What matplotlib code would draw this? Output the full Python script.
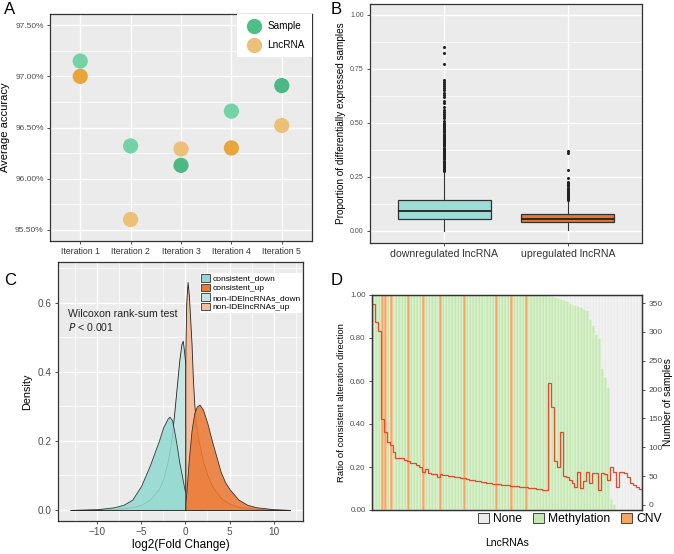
import numpy as np
import matplotlib.pyplot as plt
from matplotlib.patches import Patch
from matplotlib.lines import Line2D
from matplotlib.ticker import MultipleLocator, FuncFormatter

plt.rcParams['font.family'] = ['Liberation Sans', 'DejaVu Sans']

# ---------------- data ----------------
# A: average accuracy per iteration
iterations = ['Iteration 1', 'Iteration 2', 'Iteration 3', 'Iteration 4', 'Iteration 5']
sample_acc = [97.15, 96.32, 96.13, 96.66, 96.91]
lncrna_acc = [97.00, 95.60, 96.29, 96.30, 96.52]

# B: box plot summaries
b_groups = ['downregulated lncRNA', 'upregulated lncRNA']
b_q1 = [0.056, 0.040]
b_med = [0.090, 0.054]
b_q3 = [0.141, 0.079]
b_whislo = [0.0, 0.005]
b_whishi = [0.272, 0.141]
down_outliers = [0.85, 0.825, 0.77, 0.70, 0.69, 0.68, 0.67, 0.66, 0.65, 0.64, 0.63,
                 0.62, 0.60, 0.59, 0.575, 0.56, 0.55, 0.54, 0.53, 0.52, 0.51, 0.50,
                 0.495, 0.49, 0.485, 0.48, 0.475, 0.47, 0.465, 0.46, 0.455, 0.45,
                 0.445, 0.44, 0.435, 0.43, 0.425, 0.42, 0.415, 0.41, 0.405, 0.40,
                 0.395, 0.39, 0.385, 0.38, 0.375, 0.37, 0.365, 0.36, 0.355, 0.35,
                 0.345, 0.34, 0.335, 0.33, 0.325, 0.32, 0.315, 0.31, 0.305, 0.30,
                 0.295, 0.29, 0.285, 0.28, 0.275]
up_outliers = [0.37, 0.36, 0.28, 0.245, 0.225, 0.22, 0.215, 0.21, 0.205, 0.20, 0.195,
               0.19, 0.185, 0.18, 0.175, 0.17, 0.165, 0.16, 0.155, 0.15, 0.145, 0.14]

# C: density curves of log2 fold change
cd_x = [-13, -10, -8, -7, -6, -5, -4, -3, -2.5, -2, -1.8, -1.5, -1.2, -1.0, -0.7, -0.4, -0.1, 0]
cd_y = [0, 0.002, 0.008, 0.015, 0.03, 0.07, 0.13, 0.2, 0.24, 0.265, 0.27, 0.26, 0.22, 0.19,
        0.14, 0.1, 0.06, 0.05]
cu_x = [0, 0.2, 0.4, 0.7, 1.0, 1.3, 1.6, 2.0, 2.5, 3.0, 3.5, 4.0, 4.5, 5.0, 5.5, 6.0, 7.0,
        8.0, 9.0, 10.0, 11.8]
cu_y = [0.02, 0.08, 0.15, 0.23, 0.28, 0.30, 0.305, 0.29, 0.25, 0.2, 0.155, 0.11, 0.08, 0.06,
        0.045, 0.03, 0.015, 0.008, 0.005, 0.002, 0]
nd_x = [-13, -10, -8, -6, -5, -4, -3, -2.5, -2, -1.6, -1.3, -1.0, -0.7, -0.45, -0.3, -0.15, 0]
nd_y = [0, 0.001, 0.003, 0.008, 0.015, 0.03, 0.06, 0.09, 0.14, 0.2, 0.27, 0.35, 0.43, 0.48,
        0.49, 0.46, 0.42]
nu_x = [0, 0.1, 0.25, 0.4, 0.55, 0.7, 0.85, 1.0, 1.2, 1.5, 2.0, 2.5, 3.0, 4.0, 5.0, 6.0, 8.0,
        10.0, 11.8]
nu_y = [0.46, 0.6, 0.66, 0.62, 0.55, 0.48, 0.38, 0.31, 0.25, 0.2, 0.14, 0.1, 0.07, 0.035,
        0.018, 0.009, 0.003, 0.001, 0]

# D: ratio of consistent alteration direction per lncRNA and number of samples
ratio = [1.0, 1.0, 1.0, 1.0, 1.0, 1.0, 1.0, 1.0, 1.0, 1.0,
         1.0, 1.0, 1.0, 1.0, 1.0, 1.0, 1.0, 1.0, 1.0, 1.0,
         1.0, 1.0, 1.0, 1.0, 1.0, 1.0, 1.0, 1.0, 1.0, 1.0,
         1.0, 1.0, 1.0, 1.0, 1.0, 1.0, 1.0, 1.0, 1.0, 1.0,
         1.0, 1.0, 1.0, 1.0, 1.0, 1.0, 1.0, 1.0, 1.0, 1.0,
         1.0, 1.0, 1.0, 1.0, 1.0, 1.0, 1.0, 1.0, 1.0, 1.0,
         1.0, 0.995, 0.99, 0.985, 0.98, 0.975, 0.97, 0.965, 0.96, 0.955,
         0.95, 0.945, 0.935, 0.93, 0.89, 0.86, 0.82, 0.80, 0.66, 0.62,
         0.57, 0.05, 0.03, 0, 0, 0, 0, 0, 0, 0,
         0, 0]
cnv_index = [3, 4, 6, 12, 17, 23, 31, 42, 47, 52]
samples = [349, 317, 301, 149, 127, 110, 104, 92, 81, 81,
           81, 78, 76, 73, 73, 70, 65, 58, 62, 56,
           53, 53, 48, 53, 52, 52, 50, 50, 48, 48,
           47, 46, 45, 43, 43, 42, 41, 40, 39, 38,
           38, 37, 36, 36, 35, 34, 34, 33, 33, 33,
           32, 32, 31, 29, 29, 29, 28, 28, 26, 26,
           212, 170, 77, 66, 126, 50, 49, 43, 38, 32,
           58, 30, 42, 58, 38, 56, 56, 26, 55, 54,
           43, 66, 58, 32, 58, 58, 56, 49, 38, 35,
           31, 28]


def gg_style(ax, tick_size=7):
    ax.set_facecolor('#EBEBEB')
    ax.grid(which='major', color='white', lw=1.0)
    ax.grid(which='minor', color='white', lw=0.5)
    ax.set_axisbelow(True)
    for s in ax.spines.values():
        s.set_color('#333333')
        s.set_linewidth(0.9)
    ax.tick_params(which='major', length=2.5, width=0.6, color='#333333',
                   labelsize=tick_size, labelcolor='#4D4D4D', pad=2)
    ax.tick_params(which='minor', length=0)


W, H = 674, 554
fig = plt.figure(figsize=(6.74, 5.54), dpi=100)


def box(x0, y0, x1, y1):
    return [x0 / W, 1 - y1 / H, (x1 - x0) / W, (y1 - y0) / H]


# ---------------- A ----------------
axA = fig.add_axes(box(50, 14, 312, 241))
gg_style(axA, 6)
xs = np.arange(1, len(iterations) + 1)
s_cols = ['#74D3A6', '#74D3A6', '#4DB883', '#74D3A6', '#4DB883']
l_cols = ['#E8A53A', '#EDC078', '#EDC078', '#E8A53A', '#EDC078']
axA.scatter(xs, sample_acc, s=120, c=s_cols, edgecolors='none', zorder=3)
axA.scatter(xs, lncrna_acc, s=120, c=l_cols, edgecolors='none', zorder=3)
axA.set_xticks(xs)
axA.set_xticklabels(iterations, fontsize=6.3, color='#333333')
axA.set_xlim(0.4, 5.6)
axA.set_ylim(95.39, 97.61)
axA.yaxis.set_major_locator(MultipleLocator(0.5))
axA.yaxis.set_minor_locator(MultipleLocator(0.25))
axA.yaxis.set_major_formatter(FuncFormatter(lambda v, p: '%.2f%%' % v))
axA.set_ylabel('Average accuracy', fontsize=8, labelpad=4)
handles = [Line2D([], [], marker='o', ls='none', ms=10, color='#4DBF87', label='Sample'),
           Line2D([], [], marker='o', ls='none', ms=10, color='#EDC078', label='LncRNA')]
legA = axA.legend(handles=handles, loc='upper right', borderaxespad=0, fontsize=7.2,
                  frameon=True, fancybox=False, handletextpad=0.4, labelspacing=0.9,
                  borderpad=0.7)
legA.get_frame().set_edgecolor('none')
legA.get_frame().set_facecolor('white')
legA.get_frame().set_alpha(1)

# ---------------- B ----------------
axB = fig.add_axes(box(370, 4, 642, 243))
gg_style(axB, 5)
stats = []
fl = [down_outliers, up_outliers]
for i in range(2):
    stats.append(dict(med=b_med[i], q1=b_q1[i], q3=b_q3[i], whislo=b_whislo[i],
                      whishi=b_whishi[i], fliers=fl[i], label=b_groups[i]))
bp = axB.bxp(stats, positions=[1, 2], widths=0.75, patch_artist=True, showcaps=False,
             boxprops=dict(edgecolor='#333333', lw=0.9),
             medianprops=dict(color='#222222', lw=1.3),
             whiskerprops=dict(color='#333333', lw=0.8),
             flierprops=dict(marker='o', markersize=2.2, markerfacecolor='#222222',
                             markeredgecolor='none'))
for patch, col in zip(bp['boxes'], ['#9EDCD8', '#E8772E']):
    patch.set_facecolor(col)
axB.set_xlim(0.4, 2.6)
axB.set_ylim(-0.057, 1.05)
axB.yaxis.set_major_locator(MultipleLocator(0.25))
axB.yaxis.set_minor_locator(MultipleLocator(0.125))
axB.yaxis.set_major_formatter(FuncFormatter(lambda v, p: '%.2f' % v))
axB.set_xticklabels(b_groups, fontsize=7.6, color='#333333')
axB.set_ylabel('Proportion of differentially expressed samples', fontsize=7.2, labelpad=3)

# ---------------- C ----------------
axC = fig.add_axes(box(58, 262, 303, 521))
gg_style(axC, 7.2)
c_cols = {'consistent_down': '#93D9D1', 'consistent_up': '#EC7A35',
          'non-IDElncRNAs_down': '#C6E5E3', 'non-IDElncRNAs_up': '#F4BE9F'}
axC.fill_between(nd_x, nd_y, 0, facecolor=c_cols['non-IDElncRNAs_down'], edgecolor='#222222', lw=0.6)
axC.fill_between(nu_x, nu_y, 0, facecolor=c_cols['non-IDElncRNAs_up'], edgecolor='#222222', lw=0.6)
axC.fill_between(cd_x, cd_y, 0, facecolor=c_cols['consistent_down'], edgecolor='#222222', lw=0.6, alpha=0.88)
axC.fill_between(cu_x, cu_y, 0, facecolor=c_cols['consistent_up'], edgecolor='#222222', lw=0.6, alpha=0.88)
axC.set_xlim(-14.4, 13.3)
axC.set_ylim(-0.032, 0.718)
axC.xaxis.set_major_locator(MultipleLocator(5))
axC.xaxis.set_minor_locator(MultipleLocator(2.5))
axC.yaxis.set_major_locator(MultipleLocator(0.2))
axC.yaxis.set_minor_locator(MultipleLocator(0.1))
axC.xaxis.set_major_formatter(FuncFormatter(lambda v, p: '%d' % v if v >= 0 else '\u2212%d' % -v))
axC.set_xlabel('log2(Fold Change)', fontsize=8.5, labelpad=1)
axC.set_ylabel('Density', fontsize=7.8, labelpad=4)
axC.text(0.041, 0.798, 'Wilcoxon rank-sum test', transform=axC.transAxes, fontsize=7.6,
         va='center', color='#222222')
axC.text(0.041, 0.748, '$\\it{P}$ < 0.001', transform=axC.transAxes, fontsize=7.6,
         va='center', color='#222222')
handlesC = [Patch(facecolor=c, edgecolor='#333333', lw=0.6, label=k) for k, c in c_cols.items()]
legC = axC.legend(handles=handlesC, loc='upper right', bbox_to_anchor=(0.997, 0.958),
                  borderaxespad=0, fontsize=6, frameon=True, fancybox=False,
                  handlelength=1.1, handleheight=1.0, handletextpad=0.3,
                  labelspacing=0.12, borderpad=0.15)
legC.get_frame().set_edgecolor('none')
legC.get_frame().set_facecolor('white')
legC.get_frame().set_alpha(1)

# ---------------- D ----------------
axD = fig.add_axes(box(372, 295, 642, 510))
n = len(ratio)
idx = np.arange(n)
fill_cols = ['#F6A664' if i in cnv_index else '#C4E8B2' for i in idx]
axD.bar(idx, ratio, width=1.0, color=fill_cols, edgecolor='white', lw=0.3)
axD.bar(idx, 1 - np.array(ratio), bottom=ratio, width=1.0, color='#EBEBEB',
        edgecolor='white', lw=0.3)
axD.set_xlim(-0.5, n - 0.5)
axD.set_ylim(0, 1)
axD.set_xticks([])
axD.yaxis.set_major_locator(MultipleLocator(0.2))
axD.yaxis.set_major_formatter(FuncFormatter(lambda v, p: '%.2f' % v))
axD.tick_params(axis='y', length=2.5, width=0.6, color='#333333', labelsize=5.8,
                labelcolor='#4D4D4D', pad=2)
for s in axD.spines.values():
    s.set_color('#333333')
    s.set_linewidth(0.9)
axD.set_ylabel('Ratio of consistent alteration direction', fontsize=6.8, labelpad=3)
axD.set_xlabel('LncRNAs', fontsize=7.5, labelpad=20)

axD2 = axD.twinx()
axD2.stairs(samples, np.arange(n + 1) - 0.5, baseline=None, color='#E8472B', lw=0.9)
axD2.set_ylim(-8.7, 364)
axD2.yaxis.set_major_locator(MultipleLocator(50))
axD2.tick_params(axis='y', length=2.5, width=0.6, color='#333333', labelsize=6,
                 labelcolor='#4D4D4D', pad=2)
axD2.set_ylabel('Number of samples', fontsize=7.3, labelpad=0.5)
for s in axD2.spines.values():
    s.set_color('#333333')
    s.set_linewidth(0.9)

handlesD = [Patch(facecolor='#EBEBEB', edgecolor='#444444', lw=0.7, label='None'),
            Patch(facecolor='#C4E8B2', edgecolor='#444444', lw=0.7, label='Methylation'),
            Patch(facecolor='#F6A664', edgecolor='#444444', lw=0.7, label='CNV')]
fig.legend(handles=handlesD, loc='upper right', bbox_to_anchor=(662 / W, 1 - 513 / H),
           ncol=3, frameon=False, fontsize=8.7, handlelength=0.9, handleheight=0.9,
           handletextpad=0.35, columnspacing=0.9, borderpad=0, borderaxespad=0)

# panel letters
for lab, x, y in [('A', 4, 2), ('B', 331, 2), ('C', 4, 273), ('D', 331, 273)]:
    fig.text(x / W, 1 - y / H, lab, fontsize=12, va='top', ha='left')

fig.savefig('out.png', dpi=100)
